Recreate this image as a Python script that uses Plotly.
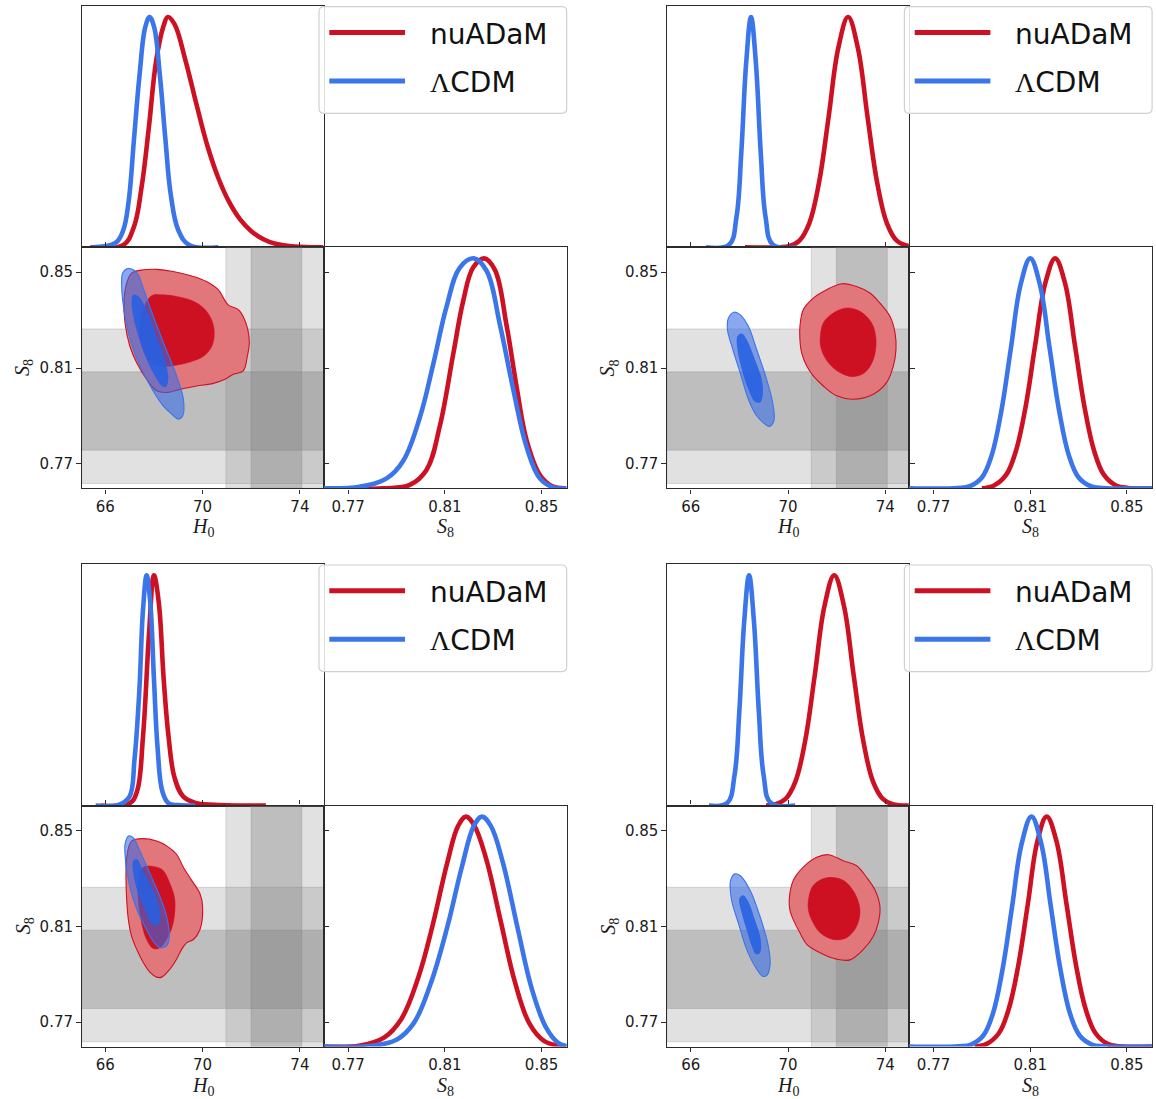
import plotly.graph_objects as go

FIG_W, FIG_H = 1156, 1099

# ---------------------------------------------------------------- styling
RED = "#cd1123"
BLUE = "#3a75e9"
RED_95_FILL = "#e2777b"
RED_68_FILL = "#cd1123"
BLUE_95_FILL = "rgba(52,105,230,0.58)"
BLUE_68_FILL = "rgba(38,96,226,0.88)"
AXIS_COLOR = "#2b2b2b"
TICK_FONT = dict(family="DejaVu Sans", size=15, color="#1a1a1a")
MATH_FONT = dict(family="Liberation Serif", size=20, color="#1a1a1a")
LEGEND_FONT = dict(family="DejaVu Sans", size=28, color="#111111")

# ---------------------------------------------------------------- shared axes / priors
MODEL_NAMES = ["nuADaM", "ΛCDM"]
H0_RANGE = [65.03, 74.97]
S8_RANGE = [0.7598, 0.8604]
PDF_RANGE = [0.0, 1.048]
H0_TICKS = [66, 70, 74]
S8_TICKS = [0.77, 0.81, 0.85]

# external measurements drawn as shaded bands (1 and 2 sigma)
SH0ES_1SIG = [71.99, 74.08]
SH0ES_2SIG = [70.96, 75.12]
S8_LENS_1SIG = [0.7757, 0.8084]
S8_LENS_2SIG = [0.7618, 0.8263]

# ---------------------------------------------------------------- run A (top left)
A_H0_RED_X = [65.38, 66.74, 67.18, 67.49, 67.79, 68.09, 68.39, 68.57, 68.84, 69.30, 69.75, 70.20, 70.65, 71.10, 71.55, 72.00, 72.50, 73.00, 73.80, 74.97]
A_H0_RED_Y = [0, 0.01, 0.09, 0.26, 0.52, 0.81, 0.96, 1.0, 0.97, 0.81, 0.62, 0.44, 0.30, 0.195, 0.12, 0.07, 0.035, 0.015, 0.003, 0]
A_H0_BLUE_X = [65.45, 66.43, 66.74, 66.96, 67.18, 67.41, 67.64, 67.82, 68.01, 68.24, 68.47, 68.69, 69.00, 69.45, 70.65]
A_H0_BLUE_Y = [0, 0.02, 0.075, 0.2, 0.47, 0.75, 0.955, 1.0, 0.955, 0.75, 0.47, 0.23, 0.075, 0.01, 0]
A_S8_RED_X = [0.7597, 0.7845, 0.7955, 0.8024, 0.8079, 0.8134, 0.8176, 0.8217, 0.8263, 0.8307, 0.8355, 0.8397, 0.8438, 0.8493, 0.8548, 0.8603]
A_S8_RED_Y = [0, 0, 0.015, 0.08, 0.27, 0.58, 0.815, 0.96, 1.0, 0.95, 0.71, 0.44, 0.21, 0.058, 0.007, 0]
A_S8_BLUE_X = [0.7597, 0.7748, 0.7859, 0.7928, 0.7997, 0.8052, 0.8107, 0.8162, 0.8220, 0.8273, 0.8328, 0.8383, 0.8438, 0.8493, 0.8548, 0.8603]
A_S8_BLUE_Y = [0, 0.007, 0.043, 0.12, 0.31, 0.54, 0.79, 0.96, 1.0, 0.945, 0.71, 0.43, 0.18, 0.043, 0.004, 0]
A_RED_95 = [(67.08, 0.8496), (67.56, 0.8510), (68.11, 0.8512), (68.79, 0.8503), (69.62, 0.8482), (70.16, 0.8461),
            (70.64, 0.8427), (71.05, 0.8364), (71.47, 0.8344), (71.78, 0.8288), (71.92, 0.8205), (71.84, 0.8150),
            (71.67, 0.8088), (71.26, 0.8074), (70.92, 0.8053), (70.44, 0.8036), (69.75, 0.8025), (69.07, 0.8011),
            (68.52, 0.7998), (68.11, 0.8005), (67.70, 0.8053), (67.29, 0.8122), (67.01, 0.8191), (66.81, 0.8288),
            (66.77, 0.8385), (66.88, 0.8454)]
A_RED_68 = [(67.90, 0.8402), (68.38, 0.8406), (68.93, 0.8399), (69.55, 0.8382), (70.05, 0.8350), (70.37, 0.8302),
            (70.48, 0.8247), (70.38, 0.8191), (70.05, 0.8150), (69.48, 0.8125), (68.86, 0.8111), (68.32, 0.8108),
            (67.90, 0.8122), (67.56, 0.8178), (67.42, 0.8261), (67.56, 0.8344)]
A_BLUE_95 = [(66.88, 0.8514), (67.15, 0.8510), (67.36, 0.8489), (67.49, 0.8454), (67.97, 0.8316), (68.45, 0.8191),
             (68.93, 0.8067), (69.21, 0.7970), (69.18, 0.7900), (69.00, 0.7887), (68.73, 0.7908), (68.38, 0.7942),
             (67.70, 0.8053), (67.15, 0.8178), (66.81, 0.8316), (66.67, 0.8454), (66.71, 0.8496)]
A_BLUE_68 = [(67.15, 0.8406), (67.40, 0.8396), (67.70, 0.8344), (68.11, 0.8233), (68.45, 0.8136), (68.59, 0.8053),
             (68.49, 0.8021), (68.32, 0.8025), (68.08, 0.8060), (67.70, 0.8136), (67.36, 0.8233), (67.15, 0.8316),
             (67.08, 0.8378)]

# ---------------------------------------------------------------- run B (top right)
B_H0_RED_X = [68.23, 69.67, 70.07, 70.47, 70.87, 71.27, 71.67, 72.07, 72.47, 72.87, 73.27, 73.67, 74.07, 74.47, 74.97]
B_H0_RED_Y = [0, 0, 0.006, 0.029, 0.103, 0.278, 0.566, 0.867, 1.0, 0.867, 0.566, 0.278, 0.103, 0.029, 0.005]
B_H0_BLUE_X = [66.63, 67.58, 67.88, 68.08, 68.28, 68.48, 68.68, 68.88, 69.08, 69.38, 70.37]
B_H0_BLUE_Y = [0, 0.011, 0.13, 0.41, 0.80, 1.0, 0.80, 0.41, 0.13, 0.011, 0]
B_S8_RED_X = [0.7900, 0.7950, 0.8000, 0.8040, 0.8080, 0.8120, 0.8163, 0.8203, 0.8243, 0.8285, 0.8325, 0.8365, 0.8405, 0.8455, 0.8505, 0.8603]
B_S8_RED_Y = [0, 0.012, 0.058, 0.16, 0.35, 0.62, 0.895, 1.0, 0.895, 0.62, 0.35, 0.16, 0.058, 0.012, 0.0016, 0]
B_S8_BLUE_X = [0.7597, 0.7800, 0.7850, 0.7900, 0.7940, 0.7980, 0.8020, 0.8060, 0.8100, 0.8140, 0.8180, 0.8220, 0.8260, 0.8300, 0.8350, 0.8400, 0.8603]
B_S8_BLUE_Y = [0, 0.001, 0.009, 0.047, 0.142, 0.334, 0.61, 0.885, 1.0, 0.885, 0.61, 0.334, 0.142, 0.047, 0.009, 0.001, 0]
B_RED_95 = [(70.49, 0.8274), (70.63, 0.8344), (71.04, 0.8392), (71.59, 0.8427), (72.21, 0.8452), (72.82, 0.8440),
            (73.37, 0.8413), (73.78, 0.8371), (74.19, 0.8316), (74.40, 0.8247), (74.44, 0.8178), (74.33, 0.8108),
            (74.05, 0.8039), (73.51, 0.7991), (72.68, 0.7970), (72.00, 0.7984), (71.45, 0.8025), (71.04, 0.8067),
            (70.77, 0.8108), (70.56, 0.8164), (70.49, 0.8219)]
B_RED_68 = [(71.32, 0.8219), (71.45, 0.8288), (71.86, 0.8330), (72.41, 0.8351), (72.96, 0.8337), (73.44, 0.8288),
            (73.62, 0.8219), (73.51, 0.8136), (73.16, 0.8081), (72.68, 0.8064), (72.27, 0.8074), (71.86, 0.8101),
            (71.52, 0.8143), (71.34, 0.8191)]
B_BLUE_95 = [(67.55, 0.8309), (67.78, 0.8333), (68.03, 0.8323), (68.37, 0.8274), (68.71, 0.8178), (69.12, 0.8053),
             (69.37, 0.7956), (69.42, 0.7880), (69.23, 0.7856), (69.05, 0.7866), (68.71, 0.7901), (68.37, 0.7970),
             (68.03, 0.8081), (67.73, 0.8178), (67.51, 0.8261)]
B_BLUE_68 = [(67.92, 0.8233), (68.10, 0.8244), (68.30, 0.8219), (68.64, 0.8136), (68.92, 0.8053), (68.96, 0.7984),
             (68.85, 0.7956), (68.64, 0.7959), (68.37, 0.8011), (68.10, 0.8094), (67.92, 0.8178)]

# ---------------------------------------------------------------- run C (bottom left)
C_H0_RED_X = [65.80, 67.00, 67.30, 67.55, 67.80, 68.00, 68.20, 68.40, 68.60, 68.85, 69.20, 69.70, 70.50, 72.60]
C_H0_RED_Y = [0, 0.01, 0.06, 0.30, 0.75, 1.0, 0.88, 0.55, 0.30, 0.12, 0.04, 0.012, 0.004, 0]
C_H0_BLUE_X = [65.60, 66.60, 67.00, 67.20, 67.40, 67.55, 67.70, 67.85, 68.00, 68.15, 68.35, 68.60, 69.00, 69.70]
C_H0_BLUE_Y = [0, 0.005, 0.04, 0.20, 0.50, 0.85, 1.0, 0.88, 0.55, 0.25, 0.06, 0.01, 0.002, 0]
C_S8_RED_X = [0.7597, 0.7750, 0.7850, 0.7920, 0.7990, 0.8050, 0.8110, 0.8155, 0.8187, 0.8220, 0.8270, 0.8330, 0.8390, 0.8450, 0.8510, 0.8570, 0.8603]
C_S8_RED_Y = [0, 0.005, 0.04, 0.12, 0.30, 0.53, 0.80, 0.96, 1.0, 0.965, 0.82, 0.55, 0.28, 0.10, 0.025, 0.004, 0]
C_S8_BLUE_X = [0.7597, 0.7800, 0.7900, 0.7970, 0.8040, 0.8110, 0.8170, 0.8220, 0.8253, 0.8290, 0.8340, 0.8400, 0.8460, 0.8520, 0.8570, 0.8603]
C_S8_BLUE_Y = [0, 0.004, 0.03, 0.10, 0.27, 0.52, 0.78, 0.96, 1.0, 0.96, 0.80, 0.52, 0.25, 0.08, 0.015, 0.002]
C_RED_95 = [(67.08, 0.8456), (67.56, 0.8466), (68.11, 0.8456), (68.52, 0.8436), (68.93, 0.8401), (69.21, 0.8347),
            (69.55, 0.8292), (69.89, 0.8237), (70.00, 0.8182), (69.89, 0.8086), (69.62, 0.8045), (69.34, 0.8031),
            (69.14, 0.8004), (68.93, 0.7963), (68.66, 0.7922), (68.32, 0.7888), (68.11, 0.7888), (67.84, 0.7908),
            (67.56, 0.7949), (67.29, 0.8004), (67.08, 0.8059), (66.95, 0.8127), (66.88, 0.8210), (66.85, 0.8305),
            (66.88, 0.8388)]
C_RED_68 = [(67.56, 0.8347), (68.11, 0.8347), (68.38, 0.8333), (68.66, 0.8278), (68.86, 0.8210), (68.79, 0.8114),
            (68.59, 0.8059), (68.25, 0.8011), (67.97, 0.8007), (67.70, 0.8045), (67.49, 0.8114), (67.36, 0.8210),
            (67.36, 0.8292)]
C_BLUE_95 = [(66.81, 0.8442), (66.95, 0.8477), (67.15, 0.8470), (67.42, 0.8415), (67.84, 0.8319), (68.25, 0.8223),
             (68.52, 0.8141), (68.63, 0.8059), (68.52, 0.8018), (68.25, 0.8011), (67.97, 0.8038), (67.70, 0.8086),
             (67.36, 0.8155), (67.08, 0.8237), (66.88, 0.8333), (66.81, 0.8401)]
C_BLUE_68 = [(67.15, 0.8374), (67.29, 0.8381), (67.49, 0.8347), (67.84, 0.8278), (68.18, 0.8196), (68.25, 0.8127),
             (68.11, 0.8100), (67.90, 0.8114), (67.63, 0.8168), (67.36, 0.8237), (67.18, 0.8305)]

# ---------------------------------------------------------------- run D (bottom right)
D_H0_RED_X = [69.10, 69.50, 69.90, 70.30, 70.70, 71.10, 71.50, 71.90, 72.30, 72.70, 73.10, 73.50, 73.90, 74.30, 74.97]
D_H0_RED_Y = [0, 0.006, 0.029, 0.103, 0.278, 0.566, 0.867, 1.0, 0.867, 0.566, 0.278, 0.103, 0.029, 0.006, 0]
D_H0_BLUE_X = [66.75, 67.50, 67.80, 68.00, 68.20, 68.40, 68.60, 68.80, 69.00, 69.30, 70.30]
D_H0_BLUE_Y = [0, 0.011, 0.13, 0.41, 0.80, 1.0, 0.80, 0.41, 0.13, 0.011, 0]
D_S8_RED_X = [0.7870, 0.7920, 0.7970, 0.8010, 0.8050, 0.8090, 0.8130, 0.8168, 0.8208, 0.8250, 0.8290, 0.8330, 0.8370, 0.8420, 0.8470, 0.8603]
D_S8_RED_Y = [0, 0.012, 0.058, 0.16, 0.35, 0.62, 0.895, 1.0, 0.895, 0.62, 0.35, 0.16, 0.058, 0.012, 0.0016, 0]
D_S8_BLUE_X = [0.7597, 0.7805, 0.7855, 0.7905, 0.7945, 0.7985, 0.8025, 0.8065, 0.8105, 0.8145, 0.8185, 0.8225, 0.8265, 0.8305, 0.8355, 0.8405, 0.8603]
D_S8_BLUE_Y = [0, 0.001, 0.009, 0.047, 0.142, 0.334, 0.61, 0.885, 1.0, 0.885, 0.61, 0.334, 0.142, 0.047, 0.009, 0.001, 0]
D_RED_95 = [(70.05, 0.8210), (70.22, 0.8292), (70.63, 0.8347), (71.18, 0.8388), (71.66, 0.8399), (72.27, 0.8374),
            (72.82, 0.8353), (73.23, 0.8305), (73.58, 0.8251), (73.78, 0.8182), (73.71, 0.8114), (73.51, 0.8059),
            (73.10, 0.8004), (72.55, 0.7960), (72.00, 0.7963), (71.32, 0.7990), (70.77, 0.8025), (70.49, 0.8073),
            (70.22, 0.8127), (70.08, 0.8168)]
D_RED_68 = [(70.84, 0.8210), (71.04, 0.8271), (71.59, 0.8303), (72.27, 0.8292), (72.75, 0.8237), (72.96, 0.8168),
            (72.82, 0.8100), (72.41, 0.8052), (71.86, 0.8045), (71.32, 0.8073), (70.97, 0.8127), (70.84, 0.8168)]
D_BLUE_95 = [(67.64, 0.8292), (67.82, 0.8319), (68.03, 0.8312), (68.44, 0.8251), (68.85, 0.8141), (69.19, 0.8018),
             (69.26, 0.7936), (69.12, 0.7894), (68.96, 0.7892), (68.71, 0.7922), (68.30, 0.8004), (67.96, 0.8114),
             (67.68, 0.8210)]
D_BLUE_68 = [(68.00, 0.8216), (68.16, 0.8230), (68.37, 0.8203), (68.64, 0.8127), (68.88, 0.8045), (68.85, 0.7990),
             (68.68, 0.7984), (68.51, 0.8018), (68.30, 0.8086), (68.10, 0.8155)]

RUNS = [
    dict(offset=(0.0, 0.0),
         h0=(A_H0_RED_X, A_H0_RED_Y, A_H0_BLUE_X, A_H0_BLUE_Y),
         s8=(A_S8_RED_X, A_S8_RED_Y, A_S8_BLUE_X, A_S8_BLUE_Y),
         contours=(A_RED_95, A_RED_68, A_BLUE_95, A_BLUE_68)),
    dict(offset=(585.4, 0.0),
         h0=(B_H0_RED_X, B_H0_RED_Y, B_H0_BLUE_X, B_H0_BLUE_Y),
         s8=(B_S8_RED_X, B_S8_RED_Y, B_S8_BLUE_X, B_S8_BLUE_Y),
         contours=(B_RED_95, B_RED_68, B_BLUE_95, B_BLUE_68)),
    dict(offset=(0.0, 558.3),
         h0=(C_H0_RED_X, C_H0_RED_Y, C_H0_BLUE_X, C_H0_BLUE_Y),
         s8=(C_S8_RED_X, C_S8_RED_Y, C_S8_BLUE_X, C_S8_BLUE_Y),
         contours=(C_RED_95, C_RED_68, C_BLUE_95, C_BLUE_68)),
    dict(offset=(585.4, 558.3),
         h0=(D_H0_RED_X, D_H0_RED_Y, D_H0_BLUE_X, D_H0_BLUE_Y),
         s8=(D_S8_RED_X, D_S8_RED_Y, D_S8_BLUE_X, D_S8_BLUE_Y),
         contours=(D_RED_95, D_RED_68, D_BLUE_95, D_BLUE_68)),
]

# panel boxes of one triangle plot, in pixels (left, top, right, bottom)
H0_BOX = (81.7, 6.0, 323.5, 247.3)
PLANE_BOX = (81.7, 247.3, 323.5, 488.3)
S8_BOX = (323.5, 247.3, 566.7, 488.3)
LEGEND_BOX = (319.0, 6.7, 566.7, 113.3)


def px_x(px):
    return px / FIG_W


def px_y(py):
    return 1.0 - py / FIG_H


def domains(box, dx, dy):
    x0, y0, x1, y1 = box
    return [px_x(x0 + dx), px_x(x1 + dx)], [px_y(y1 + dy), px_y(y0 + dy)]


def axis_names(n):
    return ("x" if n == 1 else f"x{n}"), ("y" if n == 1 else f"y{n}")


def layout_key(prefix, n):
    return prefix if n == 1 else f"{prefix}{n}"


def rounded_rect_path(x0, y0, x1, y1, r):
    pts = [
        ("M", [(x0 + r, y0)]), ("L", [(x1 - r, y0)]), ("Q", [(x1, y0), (x1, y0 + r)]),
        ("L", [(x1, y1 - r)]), ("Q", [(x1, y1), (x1 - r, y1)]), ("L", [(x0 + r, y1)]),
        ("Q", [(x0, y1), (x0, y1 - r)]), ("L", [(x0, y0 + r)]), ("Q", [(x0, y0), (x0 + r, y0)]),
    ]
    parts = []
    for cmd, coords in pts:
        parts.append(cmd + " " + " ".join(f"{px_x(a):.6f},{px_y(b):.6f}" for a, b in coords))
    return " ".join(parts) + " Z"


fig = go.Figure()
shapes = []
annotations = []
layout_axes = {}

base_line = dict(showline=True, linecolor=AXIS_COLOR, linewidth=1.4, showgrid=False,
                 zeroline=False)

for g, run in enumerate(RUNS):
    dx, dy = run["offset"]
    n_h0, n_2d, n_s8 = 3 * g + 1, 3 * g + 2, 3 * g + 3

    # ---- 1D H0 posterior
    xd, yd = domains(H0_BOX, dx, dy)
    xa, ya = axis_names(n_h0)
    layout_axes[layout_key("xaxis", n_h0)] = dict(domain=xd, range=H0_RANGE, anchor=ya,
                                                  mirror=True, ticks="", showticklabels=False, **base_line)
    layout_axes[layout_key("yaxis", n_h0)] = dict(domain=yd, range=PDF_RANGE, anchor=xa,
                                                  mirror=True, ticks="", showticklabels=False, **base_line)
    rx, ry, bx, by = run["h0"]
    for xs, ys, col in ((rx, ry, RED), (bx, by, BLUE)):
        fig.add_trace(go.Scatter(x=xs, y=ys, xaxis=xa, yaxis=ya, mode="lines",
                                 line=dict(color=col, width=4.6, shape="spline", smoothing=1.1),
                                 hoverinfo="skip", showlegend=False))

    # ---- 2D H0 - S8 plane
    xd, yd = domains(PLANE_BOX, dx, dy)
    xa, ya = axis_names(n_2d)
    layout_axes[layout_key("xaxis", n_2d)] = dict(domain=xd, range=H0_RANGE, anchor=ya,
                                                  mirror="allticks", ticks="outside", ticklen=4.5,
                                                  tickwidth=1.1, tickcolor=AXIS_COLOR,
                                                  tickvals=H0_TICKS, tickfont=TICK_FONT, **base_line)
    layout_axes[layout_key("yaxis", n_2d)] = dict(domain=yd, range=S8_RANGE, anchor=xa,
                                                  mirror="allticks", ticks="outside", ticklen=4.5,
                                                  tickwidth=1.1, tickcolor=AXIS_COLOR,
                                                  tickvals=S8_TICKS, tickformat=".2f",
                                                  tickfont=TICK_FONT, **base_line)
    # shaded measurement bands, clipped to the panel
    h_lo, h_hi = H0_RANGE
    s_lo, s_hi = S8_RANGE
    bands = [
        (max(SH0ES_2SIG[0], h_lo), min(SH0ES_2SIG[1], h_hi), s_lo, s_hi, 0.24),
        (max(SH0ES_1SIG[0], h_lo), min(SH0ES_1SIG[1], h_hi), s_lo, s_hi, 0.36),
        (h_lo, h_hi, max(S8_LENS_2SIG[0], s_lo), min(S8_LENS_2SIG[1], s_hi), 0.24),
        (h_lo, h_hi, max(S8_LENS_1SIG[0], s_lo), min(S8_LENS_1SIG[1], s_hi), 0.36),
    ]
    for x0, x1, y0, y1, alpha in bands:
        shapes.append(dict(type="rect", xref=xa, yref=ya, x0=x0, x1=x1, y0=y0, y1=y1,
                           fillcolor=f"rgba(128,128,128,{alpha})",
                           line=dict(color="rgba(120,120,120,0.25)", width=1), layer="below"))

    red95, red68, blue95, blue68 = run["contours"]
    contour_styles = [
        (red95, RED_95_FILL, RED, 1.1),
        (red68, RED_68_FILL, RED_68_FILL, 0.5),
        (blue95, BLUE_95_FILL, BLUE, 1.1),
        (blue68, BLUE_68_FILL, "rgba(0,0,0,0)", 0),
    ]
    for pts, fill, edge, lw in contour_styles:
        cx = [p[0] for p in pts] + [pts[0][0]]
        cy = [p[1] for p in pts] + [pts[0][1]]
        fig.add_trace(go.Scatter(x=cx, y=cy, xaxis=xa, yaxis=ya, mode="lines", fill="toself",
                                 fillcolor=fill,
                                 line=dict(color=edge, width=lw, shape="spline", smoothing=1.0),
                                 hoverinfo="skip", showlegend=False))

    # ---- 1D S8 posterior
    xd, yd = domains(S8_BOX, dx, dy)
    xa, ya = axis_names(n_s8)
    layout_axes[layout_key("xaxis", n_s8)] = dict(domain=xd, range=S8_RANGE, anchor=ya,
                                                  mirror=True, ticks="outside", ticklen=4.5,
                                                  tickwidth=1.1, tickcolor=AXIS_COLOR,
                                                  tickvals=S8_TICKS, tickformat=".2f",
                                                  tickfont=TICK_FONT, **base_line)
    layout_axes[layout_key("yaxis", n_s8)] = dict(domain=yd, range=PDF_RANGE, anchor=xa,
                                                  mirror=True, ticks="", showticklabels=False, **base_line)
    rx, ry, bx, by = run["s8"]
    for xs, ys, col in ((rx, ry, RED), (bx, by, BLUE)):
        fig.add_trace(go.Scatter(x=xs, y=ys, xaxis=xa, yaxis=ya, mode="lines",
                                 line=dict(color=col, width=4.6, shape="spline", smoothing=1.1),
                                 hoverinfo="skip", showlegend=False))

    # ---- axis labels
    annotations.append(dict(text="<i>H</i><sub>0</sub>", xref="paper", yref="paper",
                            x=px_x(202.6 + dx), y=px_y(513.5 + dy), showarrow=False,
                            xanchor="center", yanchor="top", font=MATH_FONT))
    annotations.append(dict(text="<i>S</i><sub>8</sub>", xref="paper", yref="paper",
                            x=px_x(445.0 + dx), y=px_y(513.5 + dy), showarrow=False,
                            xanchor="center", yanchor="top", font=MATH_FONT))
    annotations.append(dict(text="<i>S</i><sub>8</sub>", xref="paper", yref="paper",
                            x=px_x(24.0 + dx), y=px_y(368 + dy), showarrow=False, textangle=-90,
                            xanchor="center", yanchor="middle", font=MATH_FONT))

    # ---- legend box
    lx0, ly0, lx1, ly1 = LEGEND_BOX
    shapes.append(dict(type="path", xref="paper", yref="paper",
                       path=rounded_rect_path(lx0 + dx, ly0 + dy, lx1 + dx, ly1 + dy, 5),
                       fillcolor="rgba(255,255,255,0.85)",
                       line=dict(color="#d0d0d0", width=1.2), layer="above"))
    for k, (name, col) in enumerate(zip(MODEL_NAMES, (RED, BLUE))):
        yy = 32.5 + 48.5 * k + dy
        shapes.append(dict(type="line", xref="paper", yref="paper",
                           x0=px_x(329.3 + dx), x1=px_x(405.0 + dx), y0=px_y(yy), y1=px_y(yy),
                           line=dict(color=col, width=5), layer="above"))
        label = name if name != "ΛCDM" else "<span style='font-family:Liberation Serif'>Λ</span>CDM"
        annotations.append(dict(text=label, xref="paper", yref="paper",
                                x=px_x(428.0 + dx), y=px_y(yy + 1.5), showarrow=False,
                                xanchor="left", yanchor="middle", font=LEGEND_FONT))

fig.update_layout(
    width=FIG_W, height=FIG_H,
    margin=dict(l=0, r=0, t=0, b=0),
    paper_bgcolor="white", plot_bgcolor="white",
    showlegend=False,
    shapes=shapes, annotations=annotations,
    **layout_axes,
)

fig.write_html("out.html")
